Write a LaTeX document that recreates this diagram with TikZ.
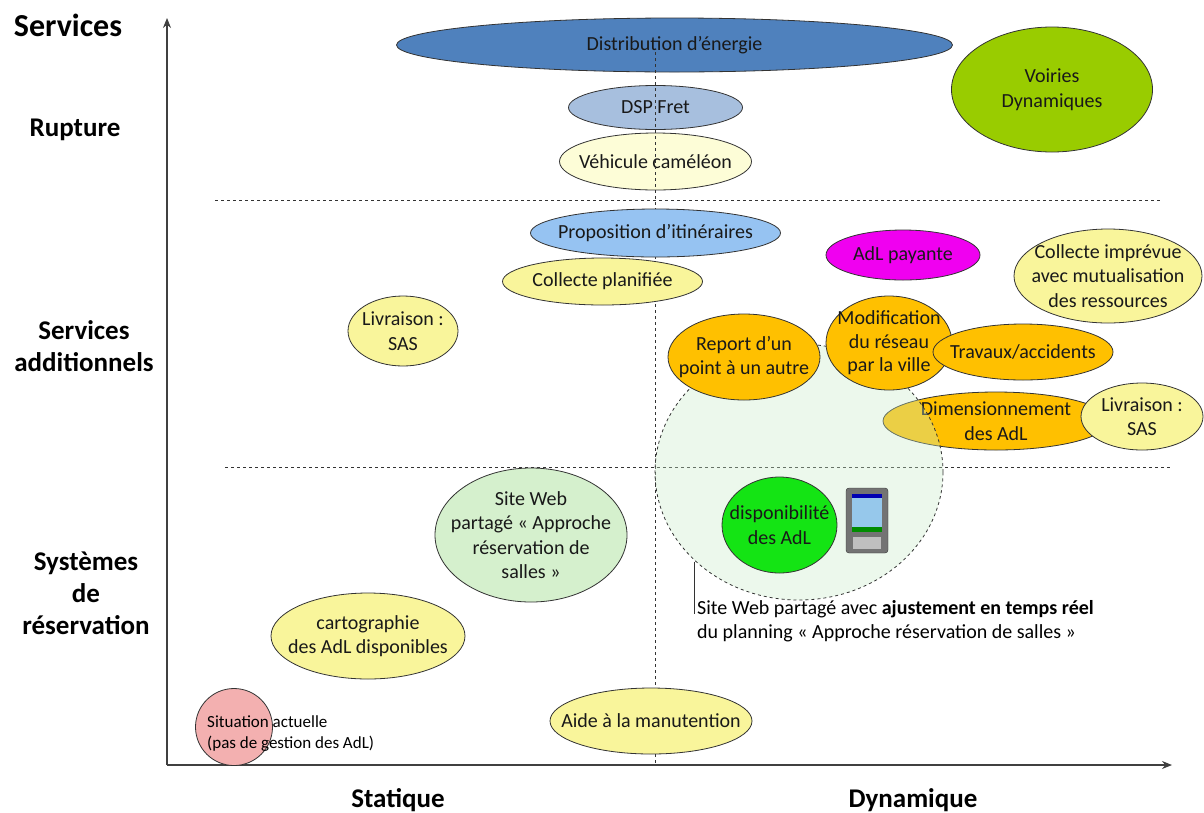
\documentclass[tikz,border=0pt]{standalone}
\usepackage{fontspec}
\setmainfont{Carlito}
\usetikzlibrary{shapes.geometric,arrows.meta}
\definecolor{distblue}{RGB}{79,129,189}
\definecolor{dspblue}{RGB}{167,191,222}
\definecolor{cream}{RGB}{253,253,215}
\definecolor{skyblue}{RGB}{150,195,242}
\definecolor{paleyellow}{RGB}{249,245,155}
\definecolor{adlmagenta}{RGB}{240,0,240}
\definecolor{voirie}{RGB}{153,204,0}
\definecolor{adlorange}{RGB}{255,192,0}
\definecolor{sitegreen}{RGB}{213,240,205}
\definecolor{dispgreen}{RGB}{20,228,20}
\definecolor{sitpink}{RGB}{243,176,176}
\definecolor{zonegreen}{RGB}{200,236,200}
\definecolor{pdascreen}{RGB}{150,200,235}
\begin{document}
\begin{tikzpicture}[x=1pt,y=-1pt,>={Stealth[length=10pt,width=8pt]},line join=round,
  font=\fontsize{20}{24.5}\selectfont,
  bulle/.style={ellipse,draw=black!80,line width=0.8pt,inner sep=0pt},
  dims/.style 2 args={minimum width=#1pt,minimum height=#2pt},
  txt/.style={align=center,inner sep=0pt,text=black!90},
  axlab/.style={font=\bfseries\fontsize{27}{32}\selectfont,align=center},
  sep/.style={dashed,black!80,line width=0.8pt}]
\useasboundingbox (0,0) rectangle (1204,812);
% axes
\coordinate (O) at (167,765);
\coordinate (ytop) at (167,18);
\coordinate (xend) at (1172,765);
\draw[->,line width=1.1pt,black!75] (O) -- (ytop);
\draw[->,line width=1.1pt,black!75] (O) -- (xend);
\node[font=\bfseries\fontsize{32}{36}\selectfont] (serv) at (68,25) {Services};
\node[axlab] (rupt) at (75,130) {Rupture};
\node[axlab] (addit) at (84,346) {Services\\additionnels};
\node[axlab] (resa) at (86,593) {Systèmes\\de\\réservation};
\node[axlab] (stat) at (398,800) {Statique};
\node[axlab] (dyna) at (913,800) {Dynamique};
% separations
\coordinate (h1a) at (215,200); \coordinate (h1b) at (1160,200);
\coordinate (h2a) at (225,467); \coordinate (h2b) at (1170,467);
\draw[sep] (h1a) -- (h1b);
\draw[sep] (h2a) -- (h2b);
% rupture
\node[bulle,dims={556}{54},fill=distblue,label={[txt]center:Distribution d’énergie}] (dist) at (674.5,45) {};
\node[bulle,dims={174}{44},fill=dspblue,label={[txt]center:DSP Fret}] (dsp) at (655.5,107.5) {};
\node[bulle,dims={192}{57},fill=cream,label={[txt]center:Véhicule caméléon}] (cam) at (655.5,161.5) {};
\coordinate (v1a) at (655,52); \coordinate (v1b) at (655,765);
\draw[sep] (v1a) -- (v1b);
\node[bulle,dims={201}{125},fill=voirie,label={[txt]center:Voiries\\Dynamiques}] (voir) at (1052,89.5) {};
% services additionnels
\node[bulle,dims={250}{48},fill=skyblue,label={[txt]center:Proposition d’itinéraires}] (itin) at (655.5,233) {};
\node[bulle,dims={200}{47},fill=paleyellow,label={[txt]center:Collecte planifiée}] (plan) at (602.5,281.5) {};
\node[bulle,dims={110}{70},fill=paleyellow,label={[txt]center:Livraison :\\SAS}] (sasg) at (403,331) {};
\node[bulle,dims={154}{50},fill=adlmagenta,label={[txt]center:AdL payante}] (pay) at (903,255) {};
\node[bulle,dims={188}{94},fill=paleyellow,label={[txt]center:Collecte imprévue\\avec mutualisation\\des ressources}] (impr) at (1108,276) {};
\node[bulle,dims={226}{58},fill=adlorange,label={[txt]center:Dimensionnement\\des AdL}] (dim) at (996,421) {};
\node[ellipse,draw=black!80,dashed,line width=0.8pt,fill=zonegreen,fill opacity=0.35,dims={288}{256}] (zone) at (799,472) {};
\node[bulle,dims={152}{86},fill=adlorange,label={[txt]center:Report d’un\\point à un autre}] (rep) at (744,357) {};
\node[bulle,dims={126}{94},fill=adlorange,label={[txt,font=\fontsize{20}{23.5}\selectfont]center:Modification\\du réseau\\par la ville}] (modif) at (889,343) {};
\node[bulle,dims={180}{56},fill=adlorange,label={[txt]center:Travaux/accidents}] (trav) at (1023,352) {};
\node[bulle,dims={122}{67},fill=paleyellow,label={[txt]center:Livraison :\\SAS}] (sasd) at (1142,416.5) {};
% systemes de reservation
\node[bulle,dims={192}{134},fill=sitegreen,label={[txt]center:Site Web\\partagé « Approche\\réservation de\\salles »}] (web) at (531,535) {};
\node[bulle,dims={194}{86},fill=paleyellow,label={[txt]center:cartographie\\des AdL disponibles}] (carto) at (368,636) {};
\node[bulle,dims={77}{77},fill=sitpink] (sit) at (234,727) {};
\node[anchor=west,align=left,inner sep=0pt,font=\fontsize{17}{21}\selectfont] (sittxt) at (207,734) {Situation actuelle\\(pas de gestion des AdL)};
\node[bulle,dims={202}{66},fill=paleyellow,label={[txt]center:Aide à la manutention}] (aide) at (651,721) {};
\node[bulle,dims={115}{96},fill=dispgreen,label={[txt]center:disponibilité\\des AdL}] (dispo) at (779.5,525) {};
% terminal
\node[draw=black!80,rounded corners=3pt,fill=black!55,dims={42}{65},inner sep=0pt] (pda) at (867,520.5) {};
\fill[pdascreen] (852,494) rectangle (882,532);
\fill[blue!70!black] (852,494) rectangle (882,498);
\fill[green!55!black] (852,527) rectangle (882,532);
\fill[black!25] (853,537) rectangle (881,549);
\node[anchor=north west,align=left,inner sep=0pt] (webtxt) at (697,600) {Site Web partagé avec \textbf{ajustement en temps réel}\\du planning « Approche réservation de salles »};
\coordinate (ztip) at (694,562);
\coordinate (ztail) at (694,614);
\draw[black!80,line width=0.8pt] (ztip) -- (ztail);
\end{tikzpicture}
\end{document}
